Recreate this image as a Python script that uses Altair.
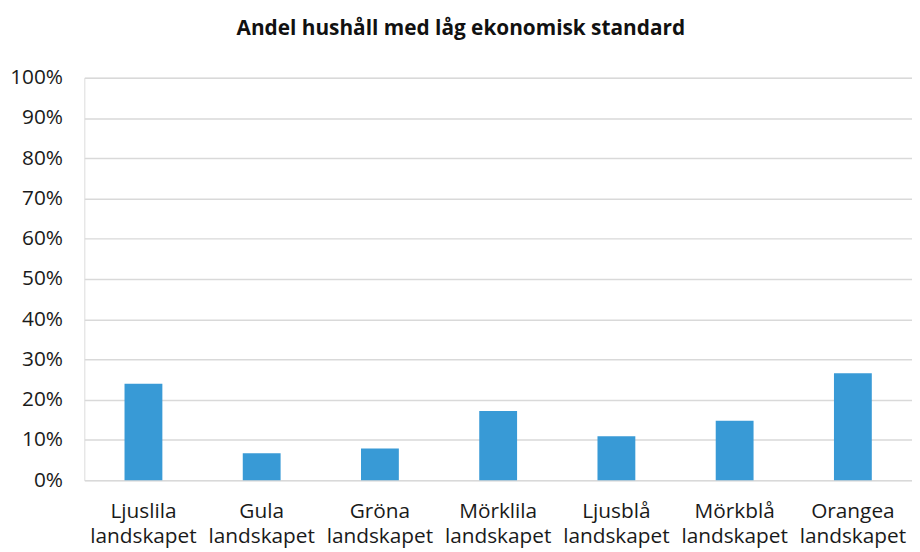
import altair as alt
import pandas as pd

categories = ["Ljuslila landskapet", "Gula landskapet", "Gröna landskapet",
              "Mörklila landskapet", "Ljusblå landskapet", "Mörkblå landskapet",
              "Orangea landskapet"]
values = [0.240, 0.067, 0.079, 0.172, 0.109, 0.148, 0.266]
y_ticks = [0, 0.1, 0.2, 0.3, 0.4, 0.5, 0.6, 0.7, 0.8, 0.9, 1.0]

df = pd.DataFrame({"kategori": categories, "andel": values})

FONT = "Open Sans"

chart = alt.Chart(df).mark_bar(color="#389AD6").encode(
    x=alt.X("kategori:N", sort=categories, title=None,
            scale=alt.Scale(paddingInner=0.68, paddingOuter=0.34),
            axis=alt.Axis(labelAngle=0, domain=False, ticks=False,
                          labelExpr="split(datum.label, ' ')",
                          labelLineHeight=25, labelPadding=38,
                          labelFontSize=21, labelFont=FONT, labelColor="#1a1a1a",
                          labelBaseline="alphabetic")),
    y=alt.Y("andel:Q", title=None,
            scale=alt.Scale(domain=[0, 1], nice=False),
            axis=alt.Axis(values=y_ticks, format=".0%", domain=False, ticks=False,
                          grid=True, gridColor="#d9d9d9", gridWidth=1.5,
                          labelPadding=22, labelFontSize=21, labelFont=FONT,
                          labelColor="#1a1a1a")),
).properties(
    width=835, height=406,
    title=alt.TitleParams("Andel hushåll med låg ekonomisk standard",
                          font=FONT, fontSize=21, fontWeight="bold",
                          color="#111111", anchor="middle", frame="bounds",
                          offset=28),
    autosize=alt.AutoSizeParams(type="none"),
    padding={"left": 77, "top": 68, "right": 0, "bottom": 72},
).configure_view(stroke=None).configure(background="white")

chart.save("out.html", embed_options={"renderer": "svg", "actions": False})
